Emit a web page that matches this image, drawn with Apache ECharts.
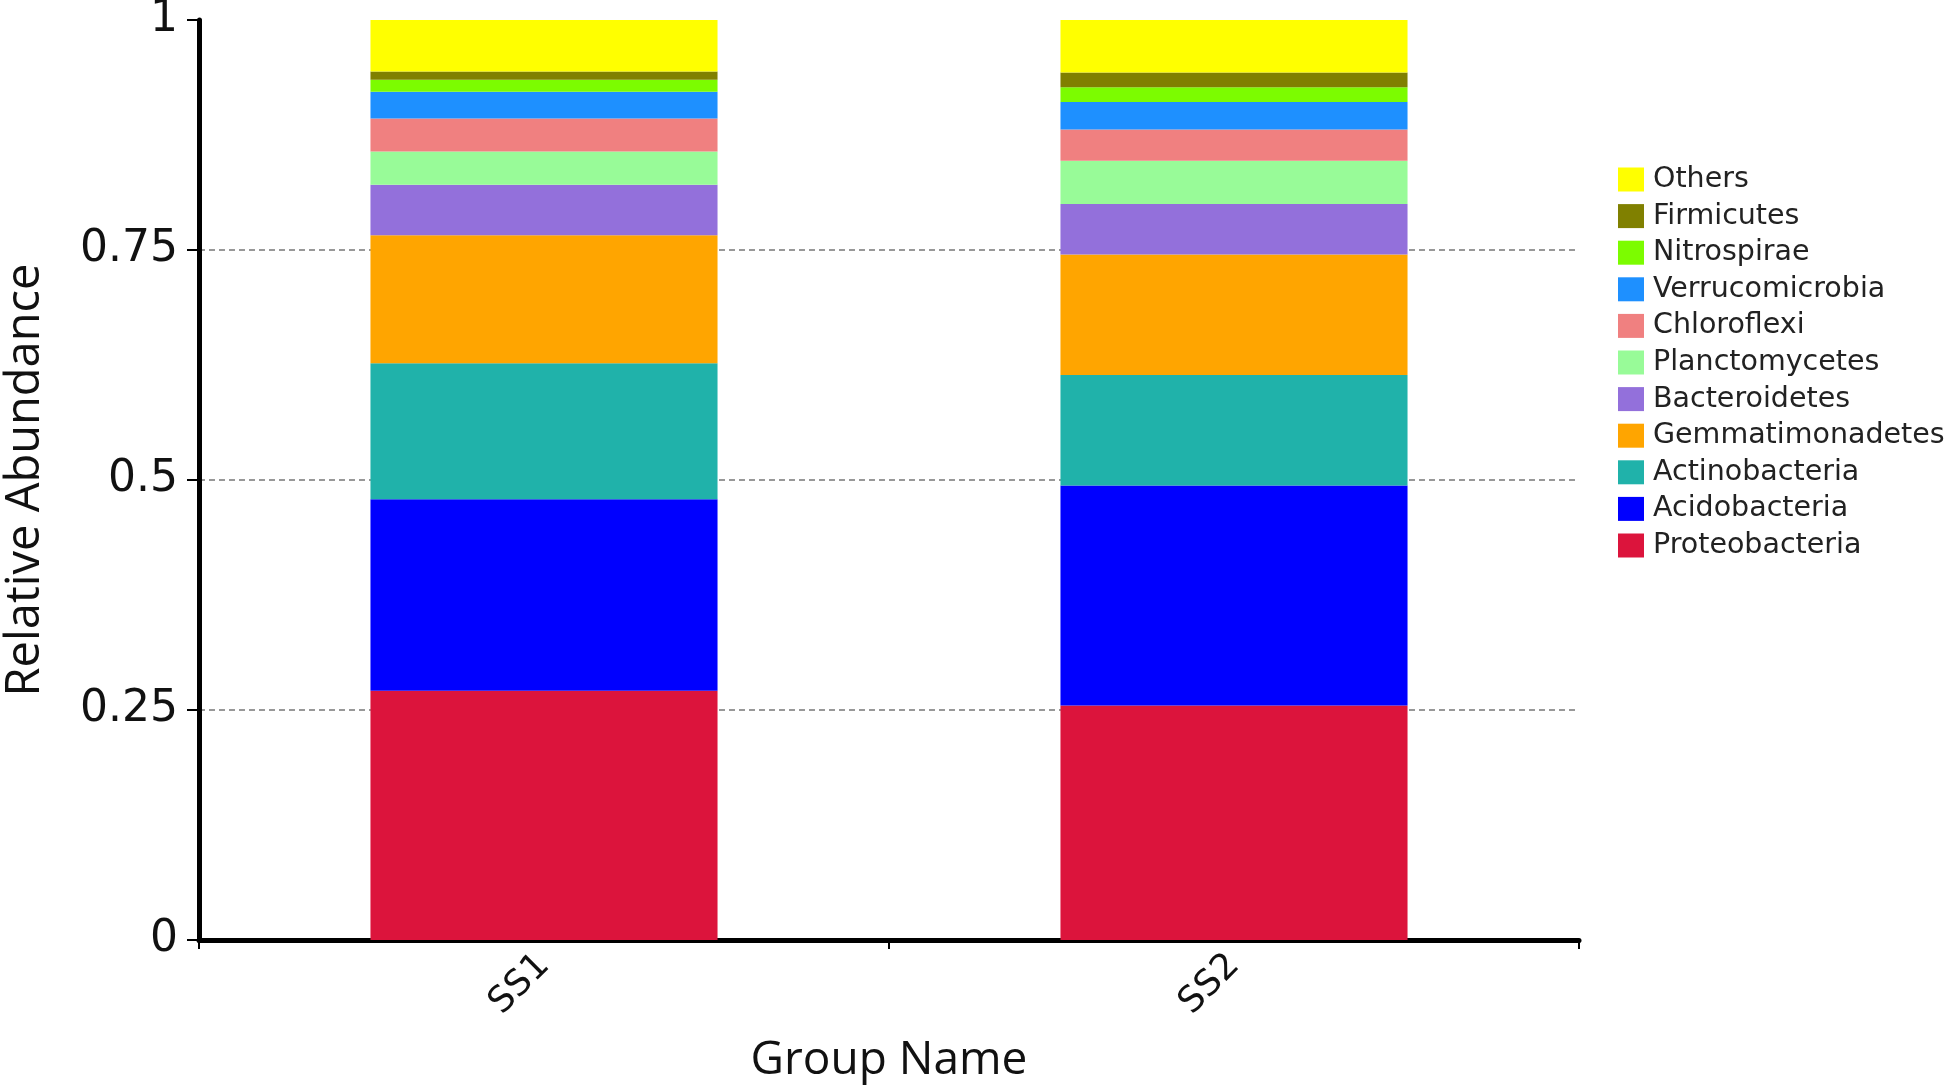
<!DOCTYPE html>
<html>
<head>
<meta charset="utf-8">
<title>Relative Abundance</title>
<script src="https://cdn.jsdelivr.net/npm/echarts@6/dist/echarts.min.js"></script>
<style>
  html, body { margin: 0; padding: 0; background: #fff; }
  #chart { width: 1946px; height: 1089px; }
</style>
</head>
<body>
<div id="chart"></div>
<script>
// 横轴分组
var groups = ["SS1", "SS2"];

// 门名称 (从下往上堆叠)
var phyla = [
  "Proteobacteria", "Acidobacteria", "Actinobacteria", "Gemmatimonadetes",
  "Bacteroidetes", "Planctomycetes", "Chloroflexi", "Verrucomicrobia",
  "Nitrospirae", "Firmicutes", "Others"
];

// 每个门在 SS1 / SS2 的相对丰度 (从图上读出来的)
var proteobacteria   = [0.271, 0.255];
var acidobacteria    = [0.208, 0.239];
var actinobacteria   = [0.148, 0.120];
var gemmatimonadetes = [0.139, 0.131];
var bacteroidetes    = [0.055, 0.055];
var planctomycetes   = [0.036, 0.047];
var chloroflexi      = [0.036, 0.034];
var verrucomicrobia  = [0.029, 0.030];
var nitrospirae      = [0.013, 0.016];
var firmicutes       = [0.009, 0.016];
var others           = [0.056, 0.057];

var values = [
  proteobacteria, acidobacteria, actinobacteria, gemmatimonadetes,
  bacteroidetes, planctomycetes, chloroflexi, verrucomicrobia,
  nitrospirae, firmicutes, others
];

// 颜色
var colors = [
  "#DC143C", "#0000FF", "#20B2AA", "#FFA500", "#9370DB", "#98FB98",
  "#F08080", "#1E90FF", "#7CFC00", "#808000", "#FFFF00"
];

// y轴刻度
var yTicks = [0, 0.25, 0.5, 0.75, 1];

var chartDom = document.getElementById("chart");
var myChart = echarts.init(chartDom);

var series = phyla.map(function (name, i) {
  return {
    name: name,
    type: "bar",
    stack: "total",
    barWidth: "50.3%",
    itemStyle: { color: colors[i] },
    data: values[i]
  };
});

var option = {
  animation: false,
  backgroundColor: "#fff",
  grid: {
    left: 199,
    right: 367,
    top: 20,
    bottom: 149,
    // 不让坐标轴名字把网格挤进去
    outerBoundsMode: "none"
  },
  legend: {
    orient: "vertical",
    left: 1613,
    top: 160,
    itemWidth: 26,
    itemHeight: 24,
    itemGap: 7.6,
    icon: "rect",
    // 图例从 Others 开始往下
    data: phyla.slice().reverse(),
    textStyle: {
      fontFamily: "DejaVu Sans",
      fontSize: 28.5,
      lineHeight: 26,
      color: "#222",
      padding: [0, 0, 0, 4]
    }
  },
  xAxis: {
    type: "category",
    data: groups,
    name: "Group Name",
    nameLocation: "middle",
    nameGap: 98,
    nameTextStyle: {
      fontFamily: "Open Sans",
      fontSize: 46,
      color: "#111"
    },
    axisLine: { lineStyle: { color: "#000", width: 5 } },
    axisTick: { show: true, length: 9, lineStyle: { color: "#000", width: 2 } },
    axisLabel: {
      rotate: 45,
      margin: 20,
      fontFamily: "DejaVu Sans",
      fontSize: 36,
      color: "#111"
    }
  },
  yAxis: {
    type: "value",
    min: yTicks[0],
    max: yTicks[yTicks.length - 1],
    interval: yTicks[1] - yTicks[0],
    name: "Relative Abundance",
    nameLocation: "middle",
    nameGap: 150,
    nameTextStyle: {
      fontFamily: "Open Sans",
      fontSize: 47,
      color: "#111"
    },
    axisLine: { show: true, lineStyle: { color: "#000", width: 5 } },
    axisTick: { show: true, length: 12, lineStyle: { color: "#000", width: 2 } },
    axisLabel: {
      margin: 21,
      fontFamily: "DejaVu Sans",
      fontSize: 44,
      color: "#111"
    },
    splitLine: {
      show: true,
      lineStyle: {
        // 0 和 1 不画虚线
        color: ["transparent", "#777", "#777", "#777", "transparent"],
        type: [6, 4],
        width: 1.5
      }
    }
  },
  series: series
};

option && myChart.setOption(option);
</script>
</body>
</html>
